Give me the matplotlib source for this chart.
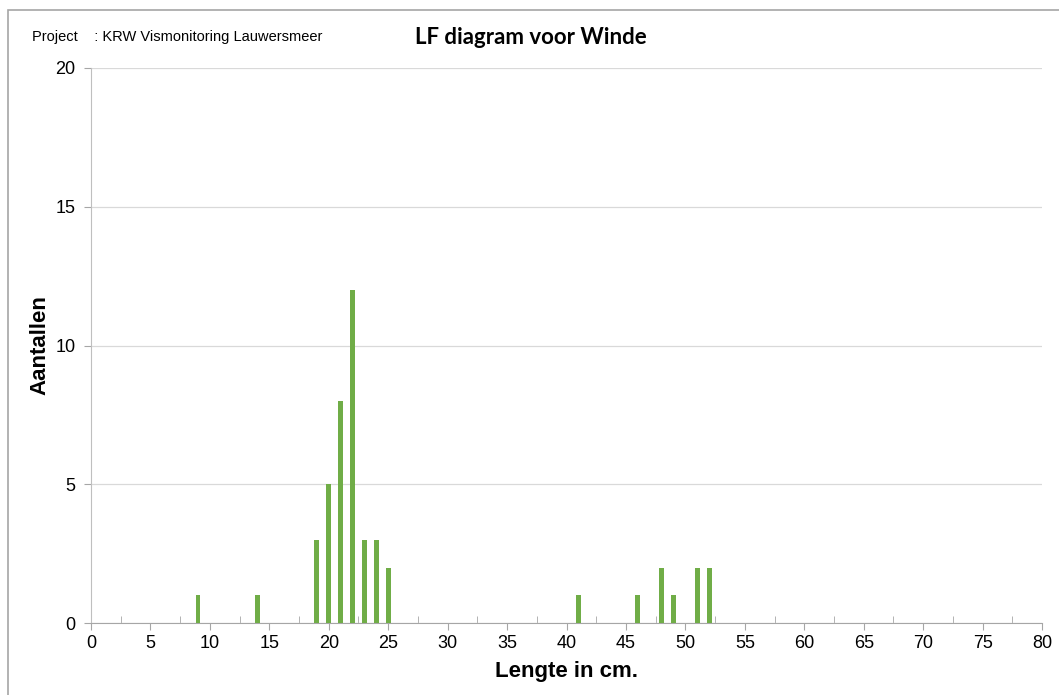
import matplotlib.pyplot as plt
import numpy as np
from matplotlib.patches import Rectangle

# DATA.
lengths = [9, 14, 19, 20, 21, 22, 23, 24, 25, 41, 46, 48, 49, 51, 52]
counts = [1, 1, 3, 5, 8, 12, 3, 3, 2, 1, 1, 2, 1, 2, 2]
x_ticks = list(range(0, 81, 5))
y_ticks = [0, 5, 10, 15, 20]

project_text = "Project    : KRW Vismonitoring Lauwersmeer"
title = "LF diagram voor Winde"
xlabel = "Lengte in cm."
ylabel = "Aantallen"

GREEN = "#70ad47"
GREY = "#bfbfbf"

plt.rcParams['font.family'] = ['Liberation Sans', 'DejaVu Sans']

fig = plt.figure(figsize=(10.59, 6.95), dpi=100)
ax = fig.add_axes([91 / 1059, 1 - 623 / 695, (1042 - 91) / 1059, (623 - 68) / 695])

# outer chart border
fig.patches.append(Rectangle((8 / 1059, -0.01), 1.02, 1 - 10 / 695 + 0.01,
                             transform=fig.transFigure, fill=False,
                             edgecolor="#a6a6a6", lw=1.2))

ax.bar(lengths, counts, width=0.4, color=GREEN, zorder=3)

ax.set_xlim(0, 80)
ax.set_ylim(0, 20)
ax.set_xticks(x_ticks)
ax.set_xticks(np.arange(2.5, 80, 5), minor=True)
ax.set_yticks(y_ticks)
ax.tick_params(axis='x', which='major', direction='out', length=5, color="#a6a6a6",
               labelsize=13, pad=4)
ax.tick_params(axis='x', which='minor', direction='in', length=5, color="#a6a6a6")
ax.tick_params(axis='y', direction='out', length=5, color="#a6a6a6", labelsize=13, pad=6)

ax.grid(axis='y', color="#d9d9d9", lw=0.9, zorder=0)
for s in ['top', 'right']:
    ax.spines[s].set_visible(False)
ax.spines['left'].set_color(GREY)
ax.spines['bottom'].set_color("#a6a6a6")

ax.set_xlabel(xlabel, fontsize=16, fontweight='bold', labelpad=6)
ax.set_ylabel(ylabel, fontsize=16, fontweight='bold')
ax.yaxis.set_label_coords((50 - 91) / 951, 0.5)

fig.text(32 / 1059, 1 - 37 / 695, project_text, fontsize=10.5, va='center', ha='left')
fig.text(531 / 1059, 1 - 37 / 695, title, fontsize=16, fontweight='bold',
         family=['Lato', 'DejaVu Sans'], va='center', ha='center')

plt.savefig("out.png", dpi=100)
